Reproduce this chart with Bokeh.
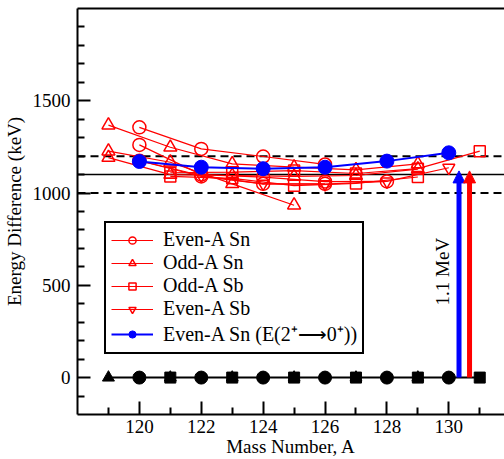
from bokeh.plotting import figure
from bokeh.models import (Range1d, FixedTicker, LinearAxis, Span, Arrow, NormalHead,
                          Label, Legend, LegendItem)
from bokeh.embed import file_html
from bokeh.resources import INLINE
from math import pi

# ---------------- data ----------------
even_sn_A1 = [120, 122, 124, 126]
even_sn_E1 = [1356, 1239, 1198, 1155]
even_sn_A2 = [120, 122, 124, 126, 128]
even_sn_E2 = [1261, 1100, 1086, 1062, 1063]
even_sn_A3 = [120, 122, 124, 126]
even_sn_E3 = [1175, 1090, 1050, 1050]

odd_sn_A1 = [119, 121, 123, 125, 127, 129]
odd_sn_E1 = [1368, 1248, 1158, 1140, 1126, 1158]
odd_sn_A2 = [119, 121, 123, 125]
odd_sn_E2 = [1227, 1167, 1050, 934]
odd_sn_A3 = [119, 121, 123, 125, 127, 129]
odd_sn_E3 = [1192, 1100, 1095, 1090, 1095, 1130]

odd_sb_A1 = [121, 123, 125, 127, 129, 131]
odd_sb_E1 = [1110, 1113, 1122, 1106, 1132, 1227]
odd_sb_A2 = [121, 123, 125, 127, 129]
odd_sb_E2 = [1090, 1080, 1040, 1052, 1087]

even_sb_A = [120, 122, 124, 126, 128, 130]
even_sb_E = [1175, 1095, 1050, 1048, 1063, 1137]

sn2_A = [120, 122, 124, 126, 128, 130]
sn2_E = [1171, 1140, 1132, 1140, 1173, 1218]

base_A = [119, 131]
base_E = [0, 0]
base_odd_A = [119, 121, 123, 125, 127, 129]
base_odd_E = [0, 0, 0, 0, 0, 0]
base_sq_A = [121, 123, 125, 127, 129, 131]
base_sq_E = [0, 0, 0, 0, 0, 0]
base_even_A = [120, 122, 124, 126, 128, 130]
base_even_E = [0, 0, 0, 0, 0, 0]

ref_solid = 1100
ref_dashed = [1000, 1200]
arrow_A = [130.33, 130.67]
arrow_colors = ["#0000ff", "#ff0000"]
arrow_top = 1120
mev_label_A = 129.8
mev_label_E = 574

x_major = [120, 122, 124, 126, 128, 130]
x_minor = [119, 121, 123, 125, 127, 129, 131]
y_major = [0, 500, 1000, 1500]
y_minor = [-100, 100, 200, 300, 400, 600, 700, 800, 900, 1100, 1200, 1300, 1400,
           1600, 1700, 1800, 1900]

FONT = "Liberation Serif"
RED = "#ff0000"
BLUE = "#0000ff"

p = figure(width=504, height=459, x_range=Range1d(118, 131.8), y_range=Range1d(-200, 2000),
           output_backend="svg", toolbar_location=None,
           min_border_left=77, min_border_right=0, min_border_top=8, min_border_bottom=0,
           x_axis_label="Mass Number, A", y_axis_label="Energy Difference (keV)")
p.outline_line_color = None
p.grid.visible = False
p.background_fill_color = "white"
p.border_fill_color = "white"

p.xaxis.ticker = FixedTicker(ticks=x_major, minor_ticks=x_minor)
p.yaxis.ticker = FixedTicker(ticks=y_major, minor_ticks=y_minor)
for ax in (p.xaxis[0], p.yaxis[0]):
    ax.axis_line_width = 2
    ax.axis_line_color = "black"
    ax.major_tick_in = 13
    ax.major_tick_out = 0
    ax.minor_tick_in = 7
    ax.minor_tick_out = 0
    ax.major_tick_line_width = 2
    ax.minor_tick_line_width = 2
    ax.major_tick_line_color = "black"
    ax.minor_tick_line_color = "black"
    ax.major_label_text_font = FONT
    ax.major_label_text_font_size = "19px"
    ax.major_label_text_color = "black"
    ax.axis_label_text_font = FONT
    ax.axis_label_text_font_size = "19px"
    ax.axis_label_text_font_style = "normal"
    ax.axis_label_text_color = "black"
p.yaxis.major_label_standoff = 7
p.yaxis.axis_label_standoff = 5
p.xaxis.major_label_standoff = 5
p.xaxis.axis_label_standoff = 0

top = LinearAxis(ticker=FixedTicker(ticks=[]), major_label_text_font_size="0px",
                 major_tick_in=0, major_tick_out=0, minor_tick_in=0, minor_tick_out=0,
                 major_label_standoff=0, axis_line_width=2, axis_line_color="black")
p.add_layout(top, "above")

# reference lines
p.add_layout(Span(location=ref_solid, dimension="width", line_color="black",
                  line_width=1.5, level="underlay"))
for v in ref_dashed:
    p.add_layout(Span(location=v, dimension="width", line_color="black",
                      line_width=2, line_dash="8 5", level="underlay"))

# baseline series
p.line(base_A, base_E, line_color="black", line_width=2)
p.scatter(base_odd_A, base_odd_E, marker="triangle", size=12, color="black")
p.scatter(base_even_A, base_even_E, marker="inverted_triangle", size=11, color="black")
p.scatter(base_sq_A, base_sq_E, marker="square", size=11, color="black")
p.scatter(base_even_A, base_even_E, marker="circle", size=13, color="black")

def series(A, E, marker, size):
    l = p.line(A, E, line_color=RED, line_width=1.2)
    s = p.scatter(A, E, marker=marker, size=size, line_color=RED, fill_color=None,
                  line_width=1.5)
    return [l, s]

r_esn = series(even_sn_A1, even_sn_E1, "circle", 13)
series(even_sn_A2, even_sn_E2, "circle", 13)
series(even_sn_A3, even_sn_E3, "circle", 13)
r_osn = series(odd_sn_A1, odd_sn_E1, "triangle", 13)
series(odd_sn_A2, odd_sn_E2, "triangle", 13)
series(odd_sn_A3, odd_sn_E3, "triangle", 13)
r_osb = series(odd_sb_A1, odd_sb_E1, "square", 11)
series(odd_sb_A2, odd_sb_E2, "square", 11)
r_esb = series(even_sb_A, even_sb_E, "inverted_triangle", 12)

bl = p.line(sn2_A, sn2_E, line_color=BLUE, line_width=2)
bs = p.scatter(sn2_A, sn2_E, marker="circle", size=14, color=BLUE)

# arrows
for a, c in zip(arrow_A, arrow_colors):
    p.add_layout(Arrow(end=NormalHead(size=12, fill_color=c, line_color=c, line_width=1),
                       x_start=a, y_start=0, x_end=a, y_end=arrow_top,
                       line_color=c, line_width=5))

p.add_layout(Label(x=mev_label_A, y=mev_label_E, text="1.1 MeV", angle=pi / 2,
                   text_align="center", text_baseline="middle", text_font=FONT,
                   text_font_size="19px", text_color="black"))

legend = Legend(items=[
    LegendItem(label="Even-A Sn", renderers=r_esn),
    LegendItem(label="Odd-A Sn", renderers=r_osn),
    LegendItem(label="Odd-A Sb", renderers=r_osb),
    LegendItem(label="Even-A Sb", renderers=r_esb),
    LegendItem(label="Even-A Sn (E(2\u207a\u27f60\u207a))", renderers=[bl, bs]),
], location=(27, 60), label_text_font=FONT, label_text_font_size="20px",
    label_text_color="black",
    glyph_width=42, glyph_height=18, label_standoff=10, spacing=0, padding=5, margin=0,
    border_line_color="black", border_line_alpha=1, border_line_width=2,
    background_fill_alpha=1)
p.add_layout(legend)

open("out.html", "w").write(file_html(p, INLINE))
